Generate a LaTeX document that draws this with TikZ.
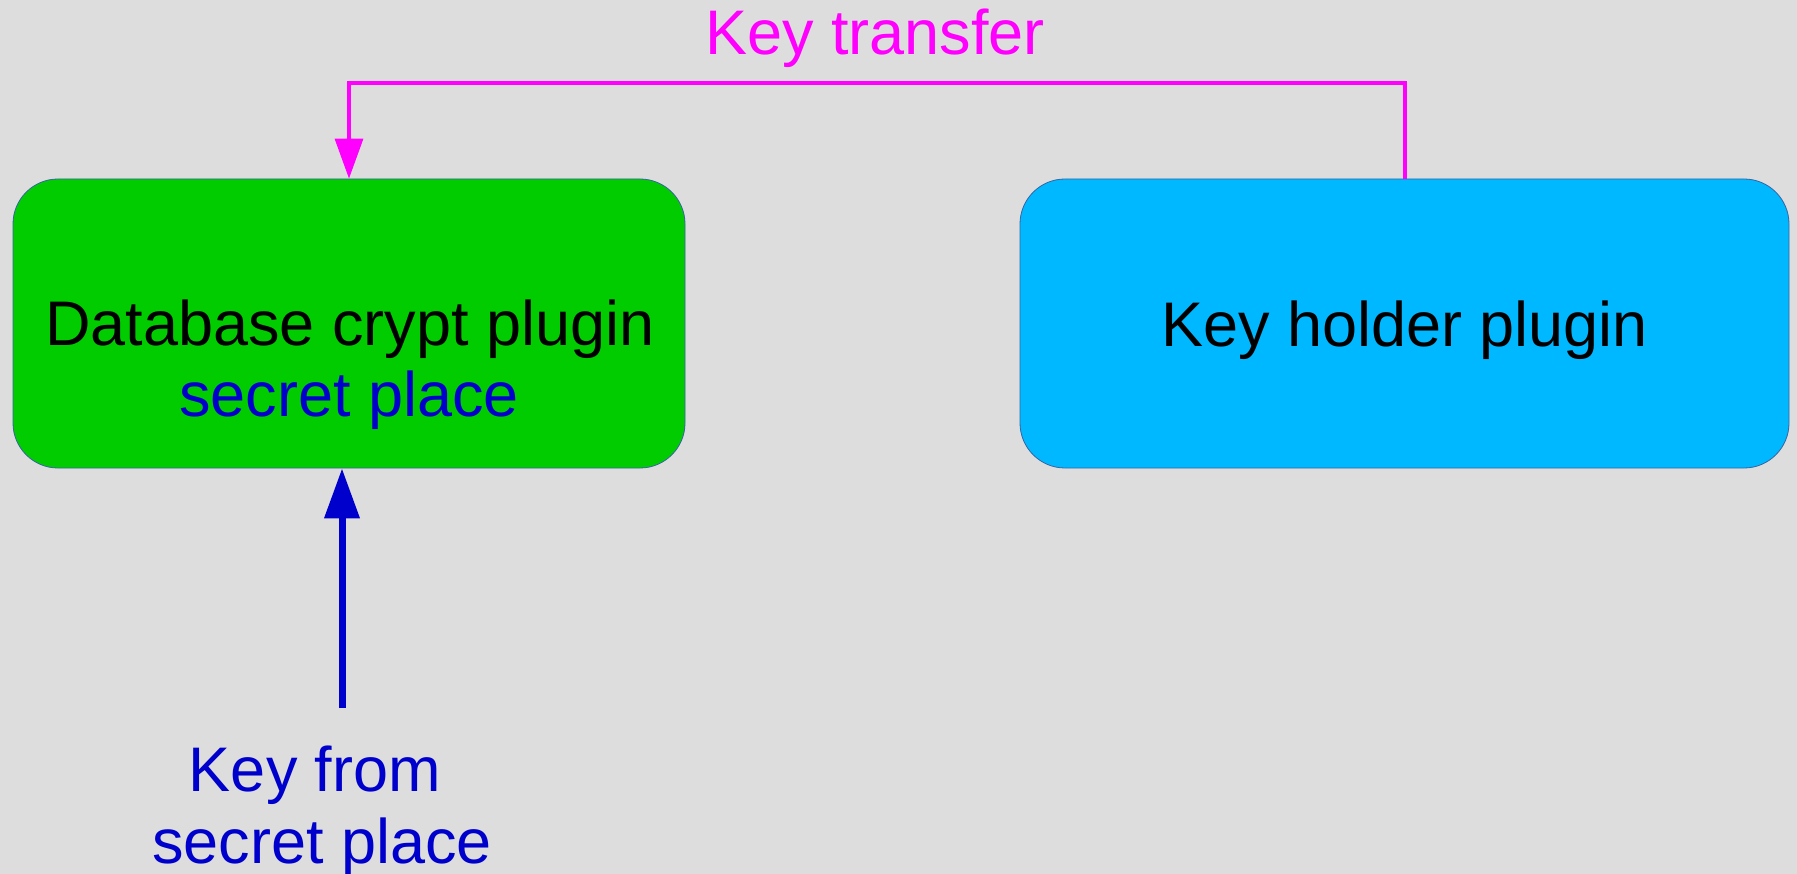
\documentclass[tikz,border=0pt]{standalone}
\usepackage{fontspec}
\setmainfont{Liberation Sans}
\usetikzlibrary{arrows.meta}

\definecolor{bgray}{HTML}{DDDDDD}
\definecolor{dbgreen}{HTML}{00CC00}
\definecolor{khblue}{HTML}{00B8FF}
\definecolor{edgeblue}{HTML}{3465A4}
\definecolor{txtblue}{HTML}{0000CC}
\definecolor{xfer}{HTML}{FF00FF}

\tikzset{
  plugin/.style={draw=edgeblue, line width=0.8pt, rectangle, rounded corners=45pt,
    inner sep=0pt, minimum height=289pt},
  lbl/.style={anchor=base, inner sep=0pt, font=\fontsize{63}{74}\selectfont},
  xferline/.style={draw=xfer, line width=3.3pt, line join=miter},
  keyline/.style={draw=txtblue, line width=7pt},
}

\begin{document}
\begin{tikzpicture}[x=1pt, y=-1pt]
  % canvas
  \fill[bgray] (0,0) rectangle (1797,874);
  \useasboundingbox (0,0) rectangle (1797,874);

  % the two plugins
  \node[plugin, fill=dbgreen, minimum width=672pt] (db) at (349,323.5) {};
  \node[plugin, fill=khblue, minimum width=769pt] (kh) at (1404.5,323.5) {};

  \node[lbl] (dbname) at (350,346) {Database crypt plugin};
  \node[lbl, text=txtblue] (dbplace) at (349,417) {secret place};
  \node[lbl] (khname) at (1404.5,347) {Key holder plugin};

  % key transfer from holder to crypt plugin
  \coordinate (xr) at (1405,83);
  \coordinate (xl) at (349,83);
  \draw[xferline, -{Triangle[length=40pt, width=28pt]}]
    (kh.north -| xr) -- (xr) -- (xl) -- (xl |- db.north);
  \node[lbl, text=xfer] (xlabel) at (875,55) {Key transfer};

  % key coming in from the secret place
  \coordinate (src) at (342,708);
  \draw[keyline, -{Triangle[length=50pt, width=34pt]}] (src) -- (src |- db.south);
  \node[lbl, text=txtblue] (srcname1) at (315,791) {Key from};
  \node[lbl, text=txtblue] (srcname2) at (322,863) {secret place};
\end{tikzpicture}
\end{document}
